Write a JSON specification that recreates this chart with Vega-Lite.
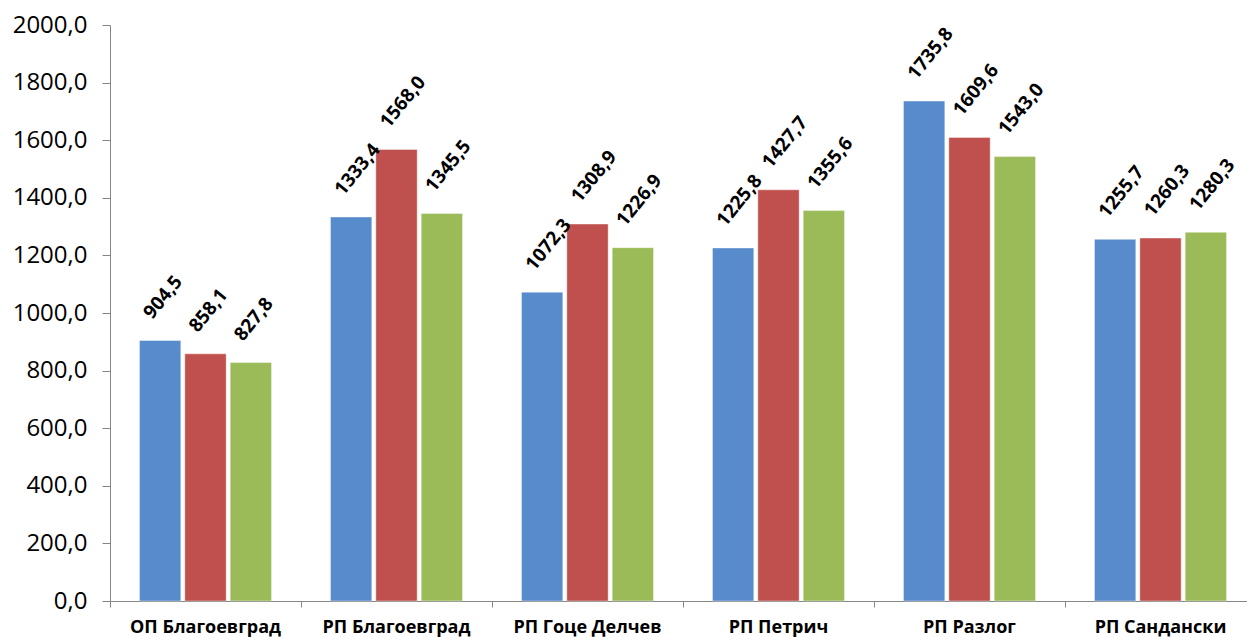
{
  "$schema": "https://vega.github.io/schema/vega-lite/v6.json",
  "width": 1137,
  "height": 576,
  "autosize": {"type": "none"},
  "padding": {"left": 110, "right": 0, "top": 25, "bottom": 36},
  "background": "white",
  "config": {
    "locale": {"number": {"decimal": ",", "thousands": "", "grouping": [3], "currency": ["", ""]}},
    "view": {"stroke": null},
    "font": "Open Sans"
  },
  "data": {
    "values": [
      {"unit": "ОП Благоевград", "series": "s1", "value": 904.5},
      {"unit": "ОП Благоевград", "series": "s2", "value": 858.1},
      {"unit": "ОП Благоевград", "series": "s3", "value": 827.8},
      {"unit": "РП Благоевград", "series": "s1", "value": 1333.4},
      {"unit": "РП Благоевград", "series": "s2", "value": 1568.0},
      {"unit": "РП Благоевград", "series": "s3", "value": 1345.5},
      {"unit": "РП Гоце Делчев", "series": "s1", "value": 1072.3},
      {"unit": "РП Гоце Делчев", "series": "s2", "value": 1308.9},
      {"unit": "РП Гоце Делчев", "series": "s3", "value": 1226.9},
      {"unit": "РП Петрич", "series": "s1", "value": 1225.8},
      {"unit": "РП Петрич", "series": "s2", "value": 1427.7},
      {"unit": "РП Петрич", "series": "s3", "value": 1355.6},
      {"unit": "РП Разлог", "series": "s1", "value": 1735.8},
      {"unit": "РП Разлог", "series": "s2", "value": 1609.6},
      {"unit": "РП Разлог", "series": "s3", "value": 1543.0},
      {"unit": "РП Сандански", "series": "s1", "value": 1255.7},
      {"unit": "РП Сандански", "series": "s2", "value": 1260.3},
      {"unit": "РП Сандански", "series": "s3", "value": 1280.3}
    ]
  },
  "encoding": {
    "x": {
      "field": "unit", "type": "nominal", "sort": null,
      "scale": {"paddingInner": 0, "paddingOuter": 0, "range": [0, 1146]},
      "axis": {
        "title": null, "labelAngle": 0, "bandPosition": 0,
        "domainColor": "#868686", "tickColor": "#868686", "tickSize": 6,
        "labelFont": "Open Sans", "labelFontWeight": "bold", "labelFontSize": 18,
        "labelColor": "black", "labelPadding": 11, "grid": false
      }
    },
    "xOffset": {
      "field": "series", "type": "nominal",
      "scale": {"paddingInner": 0.089, "paddingOuter": 0.65}
    },
    "y": {
      "field": "value", "type": "quantitative",
      "scale": {"domain": [0, 2000], "nice": false},
      "axis": {
        "title": null, "values": [0, 200, 400, 600, 800, 1000, 1200, 1400, 1600, 1800, 2000],
        "format": ".1f", "grid": false,
        "domainColor": "#868686", "tickColor": "#868686", "tickSize": 8,
        "labelFont": "Open Sans", "labelFontSize": 24, "labelColor": "black", "labelPadding": 15
      }
    }
  },
  "layer": [
    {
      "mark": {"type": "bar", "stroke": "white", "strokeWidth": 0.8, "strokeOpacity": 0.5},
      "encoding": {
        "color": {
          "field": "series", "type": "nominal",
          "scale": {"domain": ["s1", "s2", "s3"], "range": ["#588BCC", "#C0504D", "#9BBB59"]},
          "legend": null
        }
      }
    },
    {
      "mark": {"type": "text", "angle": -51, "align": "left", "baseline": "middle", "dx": 11, "dy": -25, "font": "Open Sans", "fontWeight": "bold", "fontSize": 19, "color": "black"},
      "encoding": {
        "text": {"field": "value", "type": "quantitative", "format": ".1f"}
      }
    }
  ]
}
